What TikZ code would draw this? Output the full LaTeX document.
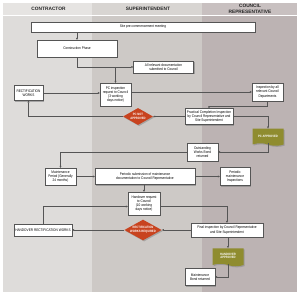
\documentclass[tikz,border=0pt]{standalone}
\usepackage{fontspec}
\setmainfont{Liberation Sans}
\newfontfamily\condfont[FakeStretch=0.85]{Liberation Sans}
\usepackage{xcolor}
\usepackage{tikz}
\usetikzlibrary{shapes.geometric,shapes.symbols,shadows,arrows.meta,calc}
\definecolor{contrbg}{HTML}{DEDCDA}
\definecolor{superbg}{HTML}{CDC9C6}
\definecolor{councilbg}{HTML}{BCB3B3}
\definecolor{contrhead}{HTML}{E6E4E2}
\definecolor{superhead}{HTML}{D8D5D2}
\definecolor{councilhead}{HTML}{C8C0C0}
\definecolor{notred}{HTML}{C8431F}
\definecolor{okolive}{HTML}{8F8C2F}
\definecolor{linegrey}{HTML}{555555}
\tikzset{
  flowbox/.style={
    draw=linegrey,
    line width=0.3pt,
    fill=white,
    inner sep=0.6pt,
    align=center,
    font=\condfont\fontsize{3.7}{4.3}\selectfont,
    drop shadow={shadow xshift=1.3pt, shadow yshift=-1.3pt, opacity=0.6}
  },
  decision/.style={
    shape=diamond,
    fill=notred,
    inner sep=0pt,
    aspect=1.8,
    align=center,
    text=white,
    font=\condfont\bfseries\fontsize{3.2}{3.7}\selectfont,
    drop shadow={shadow xshift=1.1pt, shadow yshift=-1.1pt, opacity=0.5}
  },
  docshape/.style={
    shape=tape,
    tape bend top=none,
    tape bend bottom=out and in,
    tape bend height=2.5pt,
    fill=okolive,
    inner sep=0.5pt,
    align=center,
    text=white,
    font=\condfont\bfseries\fontsize{3.2}{3.7}\selectfont,
    drop shadow={shadow xshift=1.1pt, shadow yshift=-1.1pt, opacity=0.5}
  },
  conn/.style={
    draw=linegrey,
    line width=0.4pt,
    -{Triangle[length=2pt,width=1.8pt]}
  },
  colhead/.style={
    font=\bfseries\fontsize{4.8}{5.6}\selectfont,
    text=black!85,
    align=center
  }
}

\begin{document}
\begin{tikzpicture}[x=1pt,y=-1pt]
  % lanes
  \fill[white] (0,0) rectangle (300,294);
  \fill[contrbg] (3,3) rectangle (92,292);
  \fill[superbg] (92,3) rectangle (202,292);
  \fill[councilbg] (202,3) rectangle (297,292);
  \fill[contrhead] (3,3) rectangle (92,15);
  \fill[superhead] (92,3) rectangle (202,15);
  \fill[councilhead] (202,3) rectangle (297,15);
  \draw[white, line width=0.5pt] (3,15.5) -- (297,15.5);
  \node[colhead] (hcontr) at (48.5,8.5) {CONTRACTOR};
  \node[colhead] (hsuper) at (148,8.5) {SUPERINTENDENT};
  \node[colhead] (hcouncil) at (250,9) {COUNCIL\\REPRESENTATIVE};

  % steps
  \node[flowbox, minimum width=224pt, minimum height=10pt] (site) at (143,27) {Site pre-commencement meeting};
  \node[flowbox, minimum width=80pt, minimum height=17pt] (constr) at (77,48.5) {Construction Phase};
  \node[flowbox, minimum width=60pt, minimum height=12pt] (docs) at (163.5,67) {All relevant documentation\\submitted to Council};
  \node[flowbox, minimum width=29pt, minimum height=15pt] (rect) at (28.5,93) {RECTIFICATION\\WORKS};
  \node[flowbox, minimum width=31pt, minimum height=23pt] (pcreq) at (115.5,94.5) {PC inspection\\request to Council\\(3 working\\days notice)};
  \node[flowbox, minimum width=31pt, minimum height=18pt] (insp) at (267.5,92) {Inspection by all\\relevant Council\\Departments};
  \node[decision, minimum width=30pt, minimum height=17pt] (pcno) at (138,116.5) {PC NOT\\APPROVED};
  \node[flowbox, minimum width=48pt, minimum height=16pt] (pci) at (209,116.5) {Practical Completion Inspection\\by Council Representative and\\Site Superintendent};
  \node[docshape, minimum width=31pt, minimum height=17pt] (pcyes) at (268,136) {PC APPROVED};
  \node[flowbox, minimum width=31pt, minimum height=18pt] (bond1) at (202.5,152) {Outstanding\\Works Bond\\returned};
  \node[flowbox, minimum width=31pt, minimum height=17pt] (maint) at (60.5,176.5) {Maintenance\\Period (Generally\\24 months)};
  \node[flowbox, minimum width=100pt, minimum height=16pt] (periodic) at (145,176.5) {Periodic submission of maintenance\\documentation to Council Representative};
  \node[flowbox, minimum width=30pt, minimum height=18pt] (pinsp) at (235,176.5) {Periodic\\maintenance\\Inspections};
  \node[flowbox, minimum width=32pt, minimum height=23pt] (hreq) at (144,203.5) {Handover request\\to Council\\(10 working\\days notice)};
  \node[flowbox, minimum width=58pt, minimum height=12pt] (hrw) at (43,230) {HANDOVER RECTIFICATION WORKS};
  \node[decision, minimum width=37pt, minimum height=19pt] (rwreq) at (143,230) {RECTIFICATION\\WORKS REQUIRED};
  \node[flowbox, minimum width=72pt, minimum height=14pt] (final) at (227,230) {Final inspection by Council Representative\\and Site Superintendent};
  \node[docshape, minimum width=31pt, minimum height=18pt] (hyes) at (228,256) {HANDOVER\\APPROVED};
  \node[flowbox, minimum width=30pt, minimum height=17pt] (bond2) at (200,277) {Maintenance\\Bond returned};

  % connectors
  \draw[conn] (site.south -| constr) -- (constr.north);
  \draw[conn] (constr.south) |- (docs.west);
  \draw[conn] (pcreq.north |- docs.west) -- (pcreq.north);
  \draw[conn] (rect.east) -- (rect.east -| pcreq.west);
  \draw[conn] (pcreq.east |- insp.west) -- (insp.west);
  \draw[conn] (insp.south) -- ++(0,5) -| (pci.north);
  \draw[conn] (pci.west) -- (pcno.east);
  \draw[conn] (pci.east) -| (pcyes.north);
  \draw[conn] (pcno.west) -| (rect.south);
  \draw[conn] (pcyes.south) |- (bond1.east);
  \draw[conn] (bond1.west) -| (maint.north);
  \draw[conn] (maint.east) -- (periodic.west);
  \draw[conn] (periodic.east) -- (pinsp.west);
  \draw[conn] (periodic.south -| hreq) -- (hreq.north);
  \draw[conn] (hrw.north) |- ([yshift=-3pt]hreq.west);
  \draw[conn] ([yshift=-3pt]hreq.east) -| (final.north);
  \draw[conn] (final.west) -- (rwreq.east);
  \draw[conn] (rwreq.west) -- (hrw.east);
  \draw[conn] (final.south -| hyes) -- (hyes.north);
  \draw[conn] (hyes.south) |- (bond2.east);
\end{tikzpicture}
\end{document}
